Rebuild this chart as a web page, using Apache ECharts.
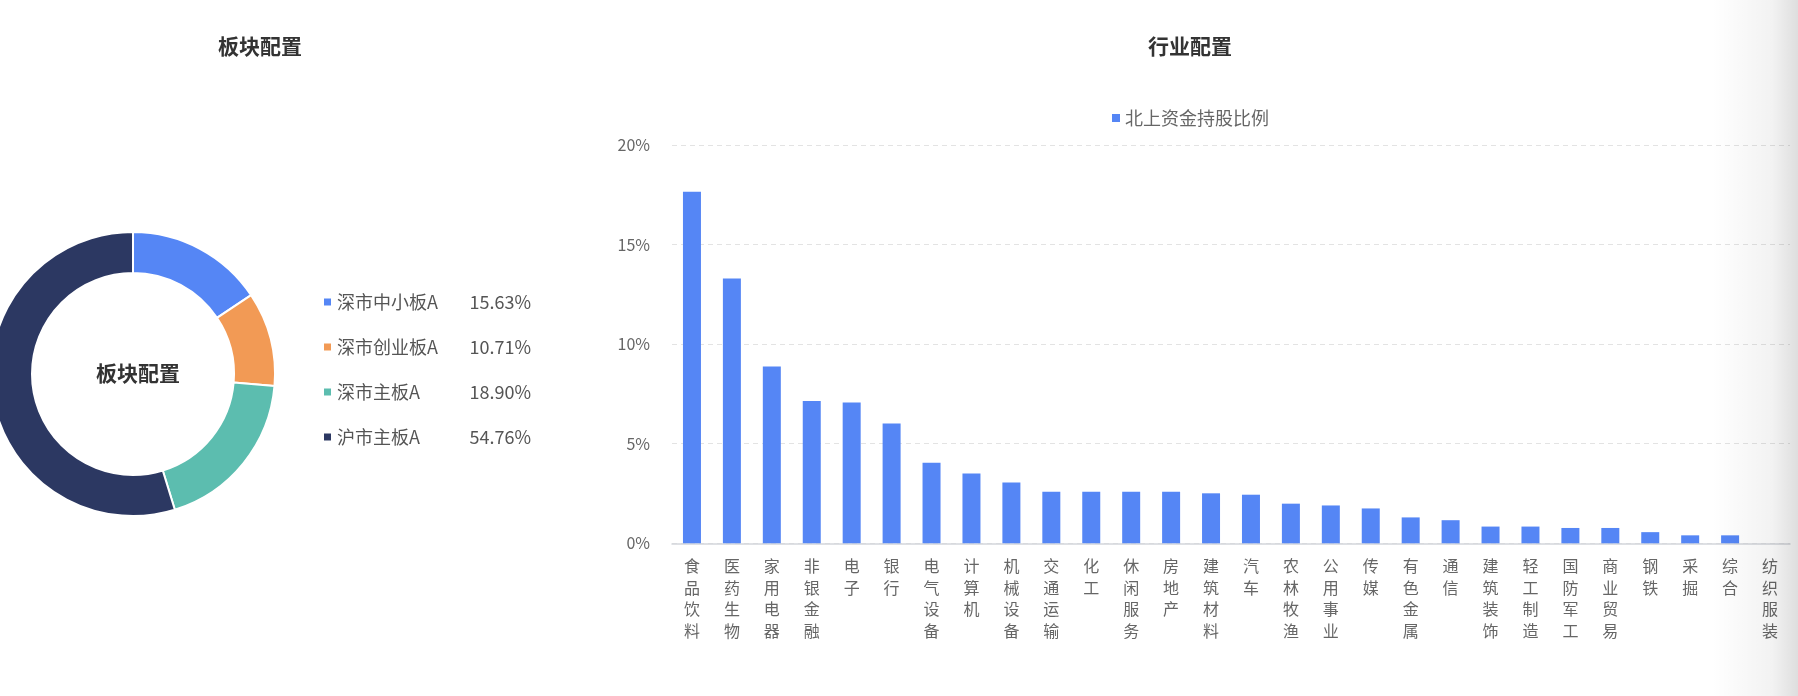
<!DOCTYPE html>
<html>
<head>
<meta charset="utf-8">
<script src="https://cdn.jsdelivr.net/npm/echarts@6/dist/echarts.min.js"></script>
<style>
html,body{margin:0;padding:0;background:#fff;}
#main{width:1798px;height:696px;}
</style>
</head>
<body>
<div id="main"></div>
<script>
// ---- data ----
var boardNames = ['深市中小板A', '深市创业板A', '深市主板A', '沪市主板A'];
var boardValues = [15.63, 10.71, 18.90, 54.76];
var boardColors = ['#5586F5', '#F29A55', '#5CBDAF', '#2C3862'];

var industries = ['食品饮料','医药生物','家用电器','非银金融','电子','银行','电气设备','计算机','机械设备','交通运输','化工','休闲服务','房地产','建筑材料','汽车','农林牧渔','公用事业','传媒','有色金属','通信','建筑装饰','轻工制造','国防军工','商业贸易','钢铁','采掘','综合','纺织服装'];
var holdRatio = [17.65,13.30,8.88,7.15,7.07,6.01,4.04,3.50,3.05,2.59,2.59,2.59,2.59,2.51,2.44,1.99,1.90,1.75,1.30,1.16,0.84,0.84,0.77,0.77,0.56,0.40,0.40,0];
var barSeriesName = '北上资金持股比例';
var yTicks = [0, 5, 10, 15, 20];

var FONT = '"Noto Sans CJK SC", "Noto Sans", sans-serif';
var chart = echarts.init(document.getElementById('main'), null, {renderer: 'canvas'});

var pieData = boardNames.map(function (n, i) {
  return { name: n, value: boardValues[i], itemStyle: { color: boardColors[i] } };
});
var valMap = {};
boardNames.forEach(function (n, i) { valMap[n] = boardValues[i].toFixed(2) + '%'; });

var option = {
  backgroundColor: '#fff',
  animation: false,
  textStyle: { fontFamily: FONT },
  title: [
    { text: '板块配置', left: 255, top: 41, textAlign: 'center', textVerticalAlign: 'middle',
      textStyle: { fontSize: 21, fontWeight: 'bold', color: '#333', fontFamily: FONT } },
    { text: '行业配置', left: 1185, top: 41, textAlign: 'center', textVerticalAlign: 'middle',
      textStyle: { fontSize: 21, fontWeight: 'bold', color: '#333', fontFamily: FONT } }
  ],
  legend: [
    {
      orient: 'vertical', left: 317, top: 287,
      data: boardNames,
      icon: 'rect', itemWidth: 9, itemHeight: 9, itemGap: 25,
      formatter: function (name) { return '{n|' + name + '}{v|' + valMap[name] + '}'; },
      textStyle: {
        color: '#555', fontFamily: FONT, fontSize: 18, lineHeight: 20,
        rich: {
          n: { width: 126, fontSize: 18, color: '#555', fontFamily: FONT },
          v: { width: 68, align: 'right', fontSize: 18, color: '#555', fontFamily: FONT }
        }
      }
    },
    {
      left: 1107, top: 104,
      data: [barSeriesName],
      icon: 'rect', itemWidth: 8, itemHeight: 8,
      textStyle: { color: '#666', fontSize: 18, fontFamily: FONT }
    }
  ],
  grid: { left: 672, right: 8, top: 145, bottom: 152.7, containLabel: false },
  xAxis: {
    type: 'category',
    data: industries,
    axisLine: { lineStyle: { color: '#d3d6dc', width: 1.5 } },
    axisTick: { show: false },
    axisLabel: {
      interval: 0, margin: 12, color: '#666', fontSize: 16, lineHeight: 21.5, fontFamily: FONT,
      verticalAlign: 'top',
      formatter: function (v) { return v.split('').join('\n'); }
    }
  },
  yAxis: {
    type: 'value', min: yTicks[0], max: yTicks[yTicks.length - 1], interval: 5,
    axisLine: { show: false }, axisTick: { show: false },
    axisLabel: { margin: 22, color: '#666', fontSize: 16, fontFamily: FONT, formatter: '{value}%' },
    splitLine: { lineStyle: { type: [5, 4], color: '#e3e3e3', width: 1 } }
  },
  series: [
    {
      type: 'pie', name: '板块配置',
      center: [133, 374], radius: [101, 142],
      startAngle: 90, clockwise: true,
      label: { show: false }, labelLine: { show: false },
      itemStyle: { borderColor: '#fff', borderWidth: 2 },
      emphasis: { disabled: true },
      data: pieData
    },
    {
      type: 'bar', name: barSeriesName,
      data: holdRatio, barWidth: 18,
      itemStyle: { color: '#5586F5' }
    }
  ],
  graphic: [
    { type: 'text', left: 96, top: 363, z: 10,
      style: { text: '板块配置', x: 0, y: 0, fill: '#333', font: 'bold 21px ' + FONT } },
    { type: 'rect', z: 100, silent: true,
      shape: { x: 1712, y: 0, width: 86, height: 696 },
      style: { fill: new echarts.graphic.LinearGradient(0, 0, 1, 0, [
        { offset: 0, color: 'rgba(0,0,0,0)' },
        { offset: 0.7, color: 'rgba(0,0,0,0.05)' },
        { offset: 1, color: 'rgba(0,0,0,0.13)' }
      ]) } }
  ]
};
chart.setOption(option);
</script>
</body>
</html>
